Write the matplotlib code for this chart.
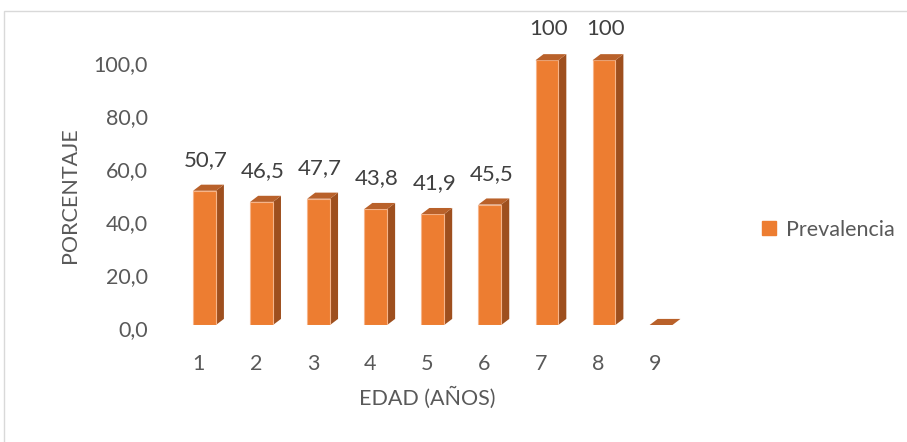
import matplotlib
matplotlib.use("Agg")
import matplotlib.pyplot as plt
from matplotlib.patches import Polygon, Rectangle
from matplotlib.lines import Line2D
from matplotlib.transforms import ScaledTranslation

plt.rcParams['font.family'] = ['Lato', 'DejaVu Sans']

# Data
edades = [1, 2, 3, 4, 5, 6, 7, 8, 9]
prevalencia = [50.7, 46.5, 47.7, 43.8, 41.9, 45.5, 100, 100, 0]
etiquetas = ["50,7", "46,5", "47,7", "43,8", "41,9", "45,5", "100", "100", ""]
yticks = [0, 20, 40, 60, 80, 100]
ytick_labels = ["0,0", "20,0", "40,0", "60,0", "80,0", "100,0"]

FRONT = "#ED7D31"
SIDE = "#9E4F1E"
TOP = "#B9612A"
EDGE = "#F6B48A"
TXT = "#595959"
LBL = "#404040"
FS = 15.5

fig = plt.figure(figsize=(9.07, 4.42), dpi=100)
ax = fig.add_axes([156 / 907, (442 - 325) / 442, 545 / 907, 278 / 442])
ax.set_xlim(0.25, 9.8)
ax.set_ylim(0, 105)

shift = 0.10      # bar front offset from category position
width = 0.40
dx = 0.14         # depth offset (x, data units)
dy = 2.3          # depth offset (y, data units)

xs = [e + shift for e in edades]
ax.bar(xs, prevalencia, width=width, color=FRONT, edgecolor=EDGE,
       linewidth=0.8, zorder=3)

for x, v in zip(xs, prevalencia):
    xl, xr = x - width / 2, x + width / 2
    side = Polygon([(xr, 0), (xr + dx, dy), (xr + dx, v + dy), (xr, v)],
                   closed=True, facecolor=SIDE, edgecolor='none', zorder=2,
                   clip_on=False)
    top = Polygon([(xl, v), (xr, v), (xr + dx, v + dy), (xl + dx, v + dy)],
                  closed=True, facecolor=TOP, edgecolor='none', zorder=4,
                  clip_on=False)
    ax.add_patch(side)
    ax.add_patch(top)

for x, v, t in zip(xs, prevalencia, etiquetas):
    if t:
        ax.annotate(t, (x, v), xytext=(1, 15), textcoords='offset points',
                    ha='center', va='bottom', fontsize=16, color=LBL,
                    annotation_clip=False)

for s in ax.spines.values():
    s.set_visible(False)

ax.set_xticks(edades)
ax.set_xticklabels([str(e) for e in edades])
ax.set_yticks(yticks)
ax.set_yticklabels(ytick_labels)
ax.tick_params(axis='x', length=0, pad=21, labelsize=FS, labelcolor=TXT)
ax.tick_params(axis='y', length=0, pad=6, labelsize=FS, labelcolor=TXT)

off = ScaledTranslation(0, -3 / 100, fig.dpi_scale_trans)
for lab in ax.get_yticklabels():
    lab.set_transform(lab.get_transform() + off)

ax.set_xlabel("EDAD (AÑOS)", fontsize=FS, color=TXT)
ax.xaxis.set_label_coords((427 - 156) / 545, -(398 - 325) / 278)
ax.xaxis.label.set_va('center')
ax.set_ylabel("PORCENTAJE", fontsize=FS, color=TXT)
ax.yaxis.set_label_coords((70 - 156) / 545, (325 - 195) / 278)
ax.yaxis.label.set_va('center')

handle = Line2D([], [], marker='s', linestyle='none', markersize=9.5,
                markerfacecolor=FRONT, markeredgecolor=FRONT)
fig.legend([handle], ["Prevalencia"], loc='center left',
           bbox_to_anchor=(758 / 907, 1 - 230 / 442), frameon=False,
           fontsize=FS, labelcolor=TXT, handlelength=1.0, handletextpad=0.3,
           borderaxespad=0, borderpad=0)

# chart border
fig.patches.append(Rectangle((4 / 907, -0.1), 1.2, 1 - 11 / 442 + 0.1,
                             transform=fig.transFigure, fill=False,
                             edgecolor="#D9D9D9", linewidth=1.0))

fig.savefig("out.png", dpi=100)
